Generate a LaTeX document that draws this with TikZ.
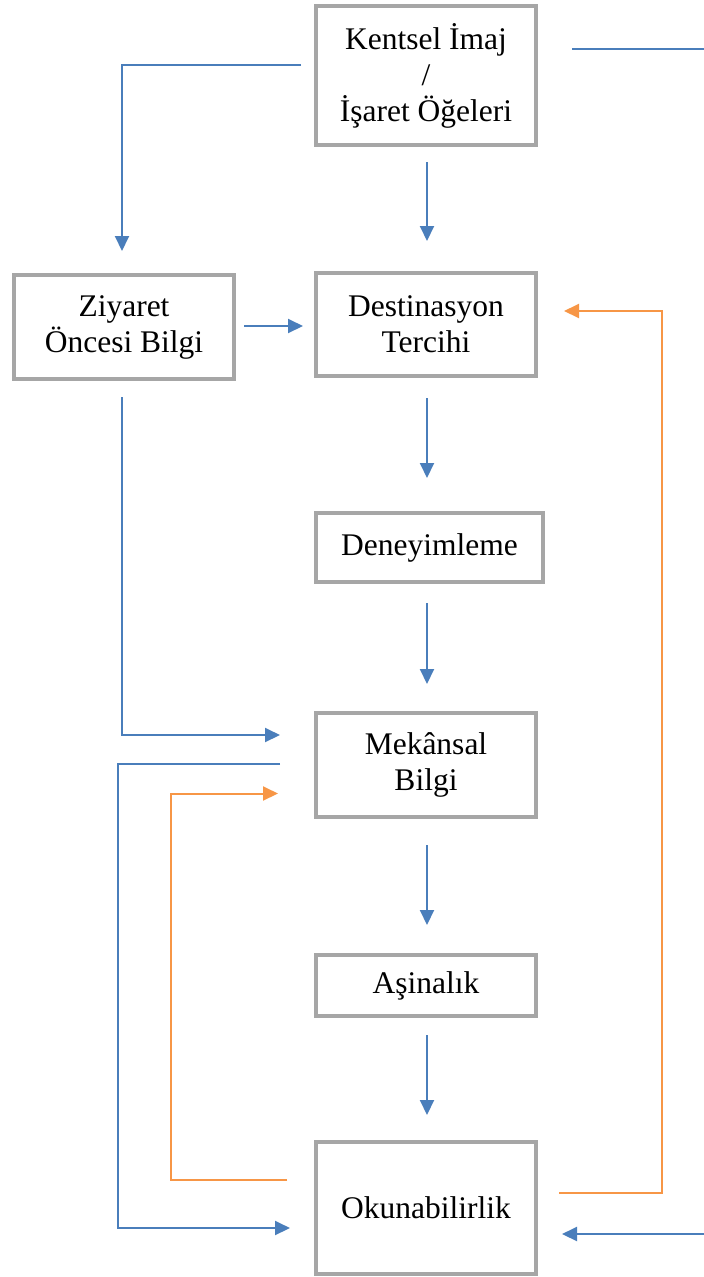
\documentclass[tikz,border=0pt]{standalone}
\usepackage{fontspec}
\setmainfont{Liberation Serif}
\usetikzlibrary{calc,arrows.meta}
\definecolor{flowblue}{HTML}{4A7EBB}
\definecolor{floworange}{HTML}{F79646}
\definecolor{boxgray}{HTML}{A6A6A6}
\begin{document}
\begin{tikzpicture}[x=1pt,y=-1pt,
  box/.style={draw=boxgray,line width=4pt,fill=white,inner sep=0pt,align=center,
    font=\fontsize{31.5}{36}\selectfont,text=black},
  bl/.style={draw=flowblue,line width=2pt},
  orl/.style={draw=floworange,line width=2pt},
  tip/.style={-{Triangle[length=15pt,width=14pt]}}]
\useasboundingbox (0,0) rectangle (704,1277);

% boxes
\node[box,minimum width=220pt,minimum height=139pt] (K) at (426,75.5)
  {Kentsel İmaj\\/\\İşaret Öğeleri};
\node[box,minimum width=220pt,minimum height=104pt] (Z) at (124,327)
  {Ziyaret\\Öncesi Bilgi};
\node[box,minimum width=220pt,minimum height=103pt] (D) at (426,324.5)
  {Destinasyon\\Tercihi};
\node[box,minimum width=227pt,minimum height=69pt] (Dn) at (429.5,547.5)
  {Deneyimleme};
\node[box,minimum width=220pt,minimum height=104pt] (M) at (426,765)
  {Mekânsal\\Bilgi};
\node[box,minimum width=220pt,minimum height=61pt] (A) at (426,985.5)
  {Aşinalık};
\node[box,minimum width=220pt,minimum height=132pt] (O) at (426,1208)
  {Okunabilirlik};

% blue connectors
\draw[bl,tip] ($(K.west)+(-13,-10.5)$) -| ($(Z.north)+(-2,-22)$);
\draw[bl,tip] ($(K.south)+(1,15)$) -- ($(D.north)+(1,-30)$);
\draw[bl] ($(K.east)+(34,-26.5)$) -- ($(K.east)+(168,-26.5)$);
\draw[bl,tip] ($(Z.east)+(8,-1)$) -- ($(D.west)+(-11,1.5)$);
\draw[bl,tip] ($(D.south)+(1,20)$) -- ($(Dn.north)+(-2.5,-33)$);
\draw[bl,tip] ($(Dn.south)+(-2.5,19)$) -- ($(M.north)+(1,-27)$);
\draw[bl,tip] ($(Z.south)+(-2,16)$) |- ($(M.west)+(-34,-30)$);
\draw[bl,tip] ($(M.west)+(-34,-1)$) -- ++(-162,0) |- ($(O.west)+(-24,20)$);
\draw[bl,tip] ($(M.south)+(1,26)$) -- ($(A.north)+(1,-28)$);
\draw[bl,tip] ($(A.south)+(1,17)$) -- ($(O.north)+(1,-25)$);
\draw[bl,tip] ($(O.east)+(168,26)$) -- ($(O.east)+(24,26)$);

% orange feedback connectors
\draw[orl,tip] ($(O.west)+(-27,-28)$) -- ++(-116,0) |- ($(M.west)+(-36,28.5)$);
\draw[orl,tip] ($(O.east)+(21,-15)$) -- ++(103,0) |- ($(D.east)+(26,-13.5)$);
\end{tikzpicture}
\end{document}
